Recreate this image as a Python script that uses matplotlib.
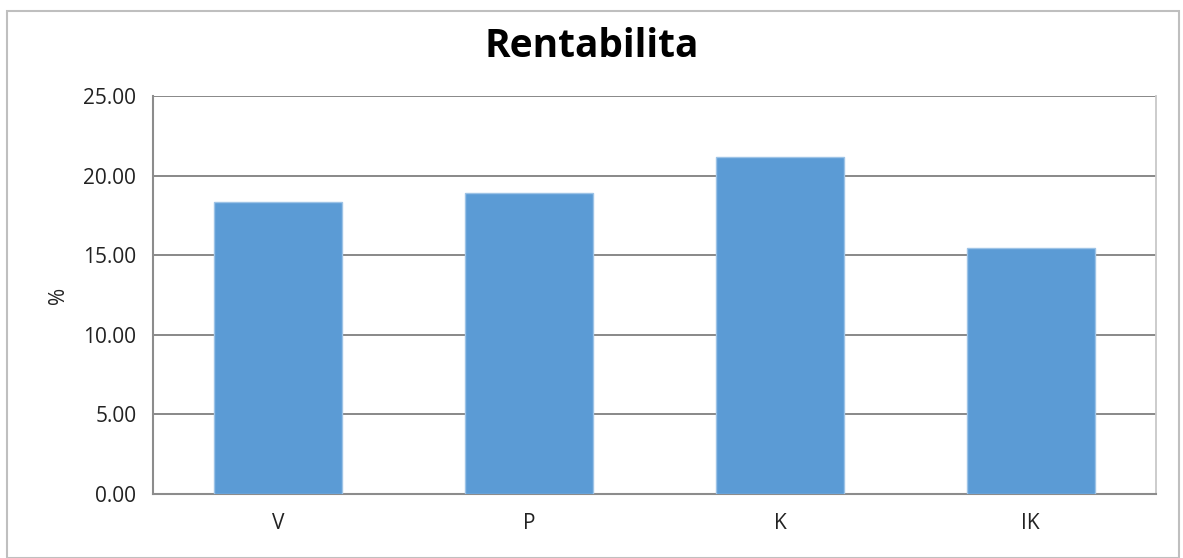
import matplotlib.pyplot as plt
from matplotlib.patches import Rectangle

categories = ["V", "P", "K", "IK"]
values = [18.34, 18.89, 21.19, 15.43]
yticks = [0, 5, 10, 15, 20, 25]

plt.rcParams['font.family'] = ['Open Sans', 'DejaVu Sans']

fig = plt.figure(figsize=(11.83, 5.58), dpi=100)
ax = fig.add_axes([0.1293, 0.1147, 0.8479, 0.7133])

# outer chart border
fig.patches.append(Rectangle((7 / 1183, 0.0), 1172 / 1183, 1 - 11 / 558,
                             transform=fig.transFigure, fill=False,
                             edgecolor="#bfbfbf", linewidth=1.5))

x = range(len(categories))
ax.bar(x, values, width=0.51, color="#5b9bd5", edgecolor="#9dc3e6",
       linewidth=1, zorder=3)

ax.set_xlim(-0.5, len(categories) - 0.5)
ax.set_ylim(0, 25)
ax.set_yticks(yticks)
ax.set_yticklabels([f"{v:.2f}" for v in yticks], fontsize=15, color="#222222")
ax.set_xticks(list(x))
ax.set_xticklabels(categories, fontsize=15, color="#222222")
ax.tick_params(axis="both", length=0, pad=12)
ax.tick_params(axis="x", pad=14)

ax.grid(axis="y", color="#7f7f7f", linewidth=1.3, zorder=0)
ax.set_axisbelow(True)
for side in ["left", "bottom"]:
    ax.spines[side].set_color("#8c8c8c")
    ax.spines[side].set_linewidth(1.5)
ax.spines["top"].set_visible(False)
ax.spines["right"].set_color("#c8c8c8")
ax.spines["right"].set_linewidth(1.3)

ax.set_ylabel("%", fontsize=15, color="#222222", labelpad=10)
fig.suptitle("Rentabilita", fontsize=28, fontweight="bold", y=0.952)

fig.savefig("out.png", dpi=100)
